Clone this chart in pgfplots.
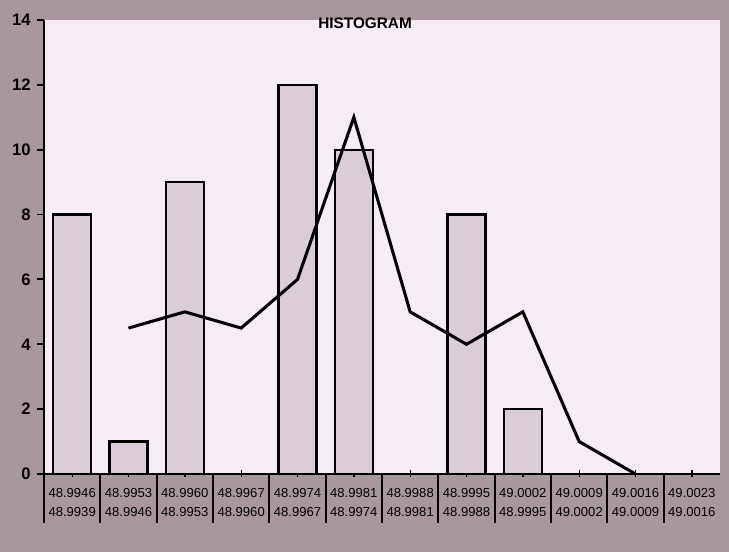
\documentclass[border=0pt]{standalone}
\usepackage{pgfplots}
\pgfplotsset{compat=1.18}
\usepackage{fontspec}
\setmainfont{Liberation Sans}
\definecolor{outside}{HTML}{A8979F}
\definecolor{paper}{HTML}{F6ECF4}
\definecolor{barfill}{HTML}{DACDD8}
\begin{document}
\begin{tikzpicture}
\fill[outside] (-33pt,-58.5pt) rectangle (513.75pt,355.5pt);
\begin{axis}[
  scale only axis,
  width=507pt, height=340.5pt,
  xmin=-0.5, xmax=11.5,
  ymin=0, ymax=14,
  axis x line=bottom, axis y line=left,
  axis line style={line width=1.6pt,-},
  axis background/.style={fill=paper},
  ytick={0,2,...,14},
  xtick={0,...,11},
  xticklabels={{48.9946\\48.9939},{48.9953\\48.9946},{48.9960\\48.9953},{48.9967\\48.9960},{48.9974\\48.9967},{48.9981\\48.9974},{48.9988\\48.9981},{48.9995\\48.9988},{49.0002\\48.9995},{49.0009\\49.0002},{49.0016\\49.0009},{49.0023\\49.0016}},
  xticklabel style={align=center, font=\fontsize{9.8}{14.5}\selectfont, yshift=-1.5pt},
  yticklabel style={font=\bfseries\fontsize{12.5}{14}\selectfont, xshift=-1pt},
  /pgf/number format/assume math mode=true,
  tick align=outside,
  major tick length=5.5pt,
  tick style={black, line width=1.4pt},
  x tick style={yshift=3pt, line width=1pt},
  title={HISTOGRAM},
  title style={at={(0.475,1)}, anchor=north, yshift=-1pt, font=\bfseries\fontsize{11.5}{13}\selectfont},
  clip=false,
]
\addplot[ybar, bar width=28.5pt, fill=barfill, draw=black, line width=1.6pt]
  coordinates {(0,8) (1,1) (2,9) (3,0) (4,12) (5,10) (6,0) (7,8) (8,2) (9,0) (10,0) (11,0)};
\addplot[black, line width=2.3pt, line join=miter]
  coordinates {(1,4.5) (2,5) (3,4.5) (4,6) (5,11) (6,5) (7,4) (8,5) (9,1) (10,0)};
\pgfplotsinvokeforeach{-0.5,0.5,1.5,2.5,3.5,4.5,5.5,6.5,7.5,8.5,9.5,10.5}{
  \draw[black, line width=1.6pt] (axis cs:#1,0) -- ([yshift=-37pt]axis cs:#1,0);
}
\end{axis}
\end{tikzpicture}
\end{document}
